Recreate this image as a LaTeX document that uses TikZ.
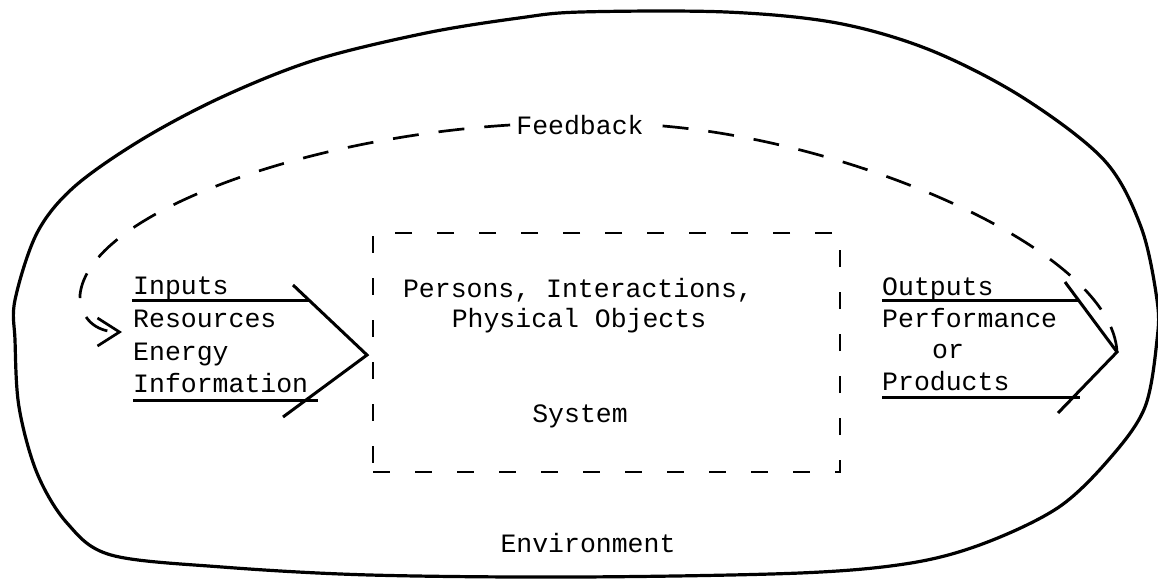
\documentclass[tikz,border=0pt]{standalone}
\usepackage{fontspec}
\setmonofont{Liberation Mono}
\usetikzlibrary{arrows.meta}
\tikzset{txt/.style={font=\ttfamily\fontsize{26.5}{32}\selectfont,inner sep=0pt},
 envline/.style={line width=3.2pt,line join=round},
 sysbox/.style={draw,line width=2.8pt,dash pattern=on 17pt off 25pt},
 fbline/.style={line width=2.7pt,dash pattern=on 26pt off 20pt},
 arm/.style={line width=3pt},
 }

\begin{document}
\begin{tikzpicture}[x=1pt,y=-1pt]
        \useasboundingbox (0,0) rectangle (1158,581);
        % environment
        \draw [envline] plot [smooth cycle, tension=0.55] coordinates {
            (15,300) (37,233) (74,187) (141,140) (222,97) (315,60) (426,33)
            (519,18) (581,12) (726,12) (837,23) (930,50) (1022,97) (1104,160)
            (1141,227) (1157,300) (1157,340) (1145,407) (1111,457) (1059,507)
            (985,543) (911,563) (800,573) (578,577) (370,575) (222,567)
            (111,555) (67,523) (37,473) (19,407) (15,340)};
        \node [txt, anchor=base] (env) at (588,552) {Environment};
        % system
        \node [sysbox, minimum width=467pt, minimum height=239pt] (system) at (606.5,352.5) {};
        \node [txt, anchor=base] (persons) at (578,297) {Persons, Interactions,};
        \node [txt, anchor=base] (physical) at (579,327) {Physical Objects};
        \node [txt, anchor=base] (sysname) at (580,422) {System};
        % inputs
        \node [txt, anchor=base west] (inputs) at (133,294) {Inputs};
        \node [txt, anchor=base west] (resources) at (133,327) {Resources};
        \node [txt, anchor=base west] (energy) at (133,360) {Energy};
        \node [txt, anchor=base west] (information) at (133,392) {Information};
        \coordinate (inUa) at (132,300);
        \coordinate (inUb) at (310,300);
        \coordinate (inLa) at (133,400);
        \coordinate (inLb) at (318,400);
        \coordinate (inA) at (293,285);
        \coordinate (inTip) at (367,355);
        \coordinate (inB) at (283,417);
        \draw [arm] (inUa) -- (inUb);
        \draw [arm] (inLa) -- (inLb);
        \draw [arm] (inA) -- (inTip) -- (inB);
        % outputs
        \node [txt, anchor=base west] (outputs) at (882,295) {Outputs};
        \node [txt, anchor=base west] (performance) at (882,327) {Performance};
        \node [txt, anchor=base west] (orword) at (932,358) {or};
        \node [txt, anchor=base west] (products) at (882,390) {Products};
        \coordinate (outUa) at (882,300);
        \coordinate (outUb) at (1078,300);
        \coordinate (outLa) at (882,397);
        \coordinate (outLb) at (1080,397);
        \coordinate (outA) at (1065,282);
        \coordinate (outTip) at (1117,352);
        \coordinate (outB) at (1058,413);
        \draw [arm] (outUa) -- (outUb);
        \draw [arm] (outLa) -- (outLb);
        \draw [arm] (outA) -- (outTip) -- (outB);
        % feedback
        \node [txt, inner sep=6pt] (fb) at (580,125) {Feedback};
        \coordinate (fbTip) at (122,332);
        \draw [fbline] (outTip) .. controls (1112,250) and (850,138) .. (fb.east);
        \draw [fbline, -{Straight Barb[length=22pt,width=28pt]}] (fb.west)
            .. controls (300,138) and (88,215) .. (80,295)
            .. controls (80,318) and (95,332) .. (fbTip);
    \end{tikzpicture}
\end{document}
